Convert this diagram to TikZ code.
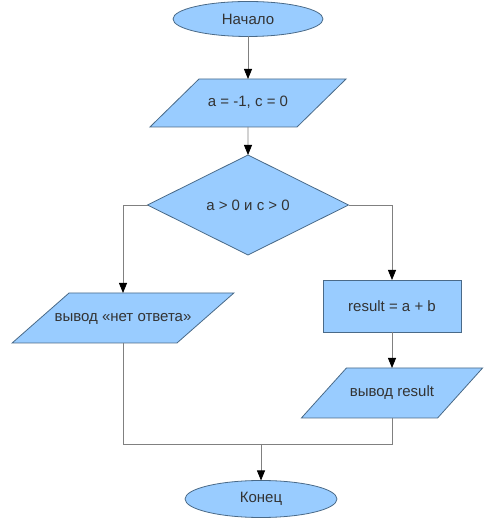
\documentclass[tikz,border=0pt]{standalone}
\usepackage{fontspec}
\setmainfont{Liberation Sans}
\usetikzlibrary{
    shapes.geometric,
    arrows.meta,
    positioning,
    calc
}
\definecolor{boxfill}{HTML}{99CCFF}
\definecolor{boxline}{HTML}{4A6A88}
\definecolor{wire}{HTML}{808080}
\definecolor{ink}{HTML}{333333}
\tikzset{
    % Base block style
    block/.style={
        draw=boxline,
        fill=boxfill,
        line width=0.8pt,
        text=ink,
        font=\fontsize{15}{18}\selectfont,
        align=center,
        inner sep=0pt,
        outer sep=0pt
    },
    % Start / end
    terminal/.style={
        block,
        ellipse,
        minimum width=150pt,
        minimum height=35pt
    },
    % Input / output: slant angle, side padding, vertical padding
    io/.style n args={3}{
        block,
        trapezium,
        trapezium left angle=#1,
        trapezium right angle=180-#1,
        text height=11pt,
        text depth=3pt,
        inner xsep=#2,
        inner ysep=#3
    },
    % Condition
    decision/.style={
        block,
        diamond,
        aspect=2,
        minimum width=201pt,
        minimum height=100pt
    },
    % Action
    process/.style={
        block,
        rectangle,
        minimum width=138pt,
        minimum height=52pt
    },
    % Arrow styles
    flow/.style={
        -{Triangle[length=10pt, width=8pt, color=black, fill=black]},
        line width=0.8pt,
        draw=wire
    },
    link/.style={
        line width=0.8pt,
        draw=wire
    }
}
\begin{document}
\begin{tikzpicture}[x=1pt, y=1pt]
    \useasboundingbox (0,0) rectangle (483,518);

    % Blocks
    \node[terminal] (start) at (248, 499) {Начало};
    \node[io={44.4}{9pt}{17pt}] (input) at (248, 415) {a = -1, c = 0};
    \node[decision] (cond) at (248, 313) {a > 0 и c > 0};
    \node[io={41.3}{-14.5pt}{18pt}] (noans) at (123, 200) {вывод «нет ответа»};
    \node[process] (calc) at (392, 212) {result = a + b};
    \node[io={48}{3.5pt}{18pt}] (outres) at (392, 125) {вывод result};
    \node[terminal, minimum width=152pt, minimum height=37pt] (end) at (261, 19) {Конец};
    \coordinate (merge) at (261, 74);

    % Connections
    \draw[flow] (start) -- (input);
    \draw[flow] (input) -- (cond);
    \draw[flow] (cond.west) -| (noans);
    \draw[flow] (cond.east) -| (calc);
    \draw[flow] (calc) -- (outres);
    \draw[link] (noans) |- (merge);
    \draw[link] (outres) |- (merge);
    \draw[flow] (merge) -- (end);

\end{tikzpicture}
\end{document}
